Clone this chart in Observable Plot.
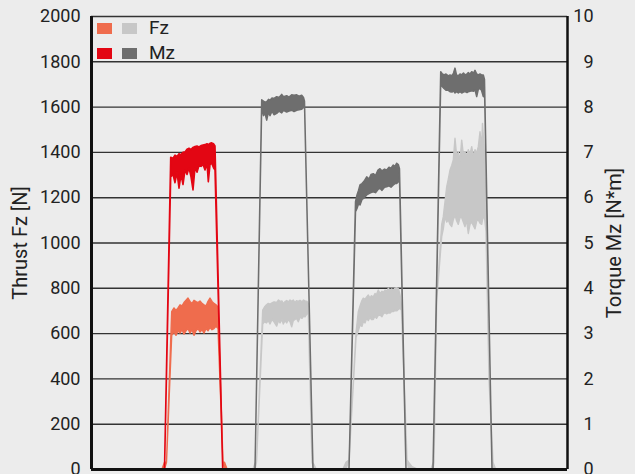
<!DOCTYPE html>
<html>
<head>
<meta charset="utf-8">
<script src="https://cdn.jsdelivr.net/npm/d3@7"></script>
<script src="https://cdn.jsdelivr.net/npm/@observablehq/plot@0.6"></script>
<style>
  html, body { margin: 0; padding: 0; background: #ececec; }
  #wrap { position: relative; width: 635px; height: 474px; font-family: Roboto, "Noto Sans", sans-serif; color: #222; }
  .sw { position: absolute; width: 15px; height: 11px; }
  .lg { position: absolute; font-size: 19px; line-height: 19px; }
</style>
</head>
<body>
<div id="wrap"></div>
<script>
// ---- data (time in samples across the unlabelled x axis; Fz in N; Mz in N*m) ----
// each row: [time, lower envelope, upper envelope]
const fz1 = [[71,0,0],[73.5,0,30],[75.5,30,30],[80.7,590,695],[83,605,711],[85,590,700],[87,610,711],[89,600,725],[91,615,720],[93,595,735],[95,610,745],[97,620,755],[99,600,740],[101,615,731],[103,590,745],[105,610,739],[107,620,735],[109,605,742],[111,615,731],[113,600,725],[115,620,720],[117,610,740],[119,625,755],[121,615,740],[123,620,731],[125,630,725],[127,620,715],[132,30,30],[133.5,0,30],[136,0,0]];
const mz1 = [[73.5,0,0],[79.7,6.45,6.88],[82,6.5,6.86],[84,6.32,6.93],[86,6.55,6.9],[88,6.2,6.96],[90,6.5,6.94],[92,6.28,6.99],[94,6.6,7.0],[96,6.5,7.06],[98,6.65,7.08],[100,6.45,7.05],[102,6.16,7.1],[104,6.65,7.12],[106,6.55,7.13],[108,6.7,7.11],[110,6.68,7.14],[112,6.72,7.15],[114,6.6,7.16],[116,6.75,7.18],[117.3,6.34,7.16],[119,6.72,7.19],[120.7,6.75,7.2],[122.5,6.65,7.18],[124,6.6,7.13],[131.7,0,0]];
const fz2 = [[162,0,0],[164,0,25],[165.5,30,30],[171.7,640,702],[173.5,650,715],[175.5,645,725],[177.3,655,731],[179,640,728],[181,660,733],[183,650,738],[185.7,631,735],[187.5,655,746],[189,645,740],[191,660,742],[192.3,640,730],[194,655,739],[195.7,645,744],[197.5,660,738],[199,650,746],[200.7,628,740],[202.3,655,746],[204,660,735],[205.5,665,743],[207.3,650,740],[209,670,745],[211,665,738],[212.5,675,746],[214,672,742],[216,685,740],[217.3,690,731],[221,30,30],[223,0,20],[225,0,0]];
const mz2 = [[164,0,0],[170.7,8.0,8.15],[172.5,7.8,8.12],[174,7.85,8.1],[175.7,7.7,8.11],[177.5,7.88,8.16],[179,7.8,8.14],[181,7.9,8.19],[183,7.82,8.18],[185.7,7.85,8.22],[188,7.9,8.2],[190.7,7.86,8.27],[192.5,7.92,8.22],[195.7,7.88,8.24],[198,7.9,8.21],[200.7,7.92,8.26],[203,7.89,8.25],[205.7,7.92,8.26],[208,7.93,8.23],[210.7,7.94,8.25],[212.5,7.98,8.2],[213.5,8.05,8.12],[222,0,0]];
const fz3 = [[252,0,0],[255,0,30],[258,40,40],[265,580,600],[267.3,610,695],[269,636,720],[271,630,745],[272.3,650,754],[274,645,750],[275.7,665,760],[277.3,655,768],[279,670,755],[280.5,660,765],[282.3,660,760],[284,675,775],[285.5,665,770],[287.3,678,790],[289,680,775],[291,672,785],[292.3,685,780],[294,690,790],[295.7,685,785],[297.3,690,798],[299,688,788],[300.5,695,795],[302.3,695,790],[304,700,798],[305.7,698,800],[307.5,705,795],[309,710,770],[310.5,700,720],[316,40,40],[317.5,0,30],[321,0,10],[326,0,0]];
const mz3 = [[258,0,0],[264.5,5.68,5.9],[266,5.75,6.05],[267.5,5.85,6.15],[269,5.83,6.27],[271,5.95,6.3],[273,5.98,6.35],[275.7,6.05,6.45],[278,6.08,6.4],[280,6.1,6.5],[282.3,6.12,6.52],[284.5,6.1,6.48],[287,6.17,6.6],[289,6.2,6.63],[291,6.15,6.58],[293.5,6.22,6.62],[295.7,6.23,6.6],[298,6.25,6.66],[300,6.22,6.64],[302.3,6.27,6.71],[304,6.3,6.68],[305.7,6.3,6.75],[307.3,6.34,6.72],[308.5,6.4,6.63],[315,0,0]];
const fz4 = [[340,0,0],[342,0,25],[343,30,30],[345.7,746,746],[350.7,1026,1080],[352.3,1060,1114],[354,1114,1180],[355.7,1090,1246],[357.3,1099,1280],[359,1080,1320],[360.7,1070,1340],[362.3,1100,1364],[364,1120,1460],[365.7,1095,1380],[367.3,1080,1400],[369,1110,1360],[370.7,1110,1452],[372.3,1090,1390],[374,1070,1400],[375.5,1100,1380],[377.3,1040,1410],[379,1080,1390],[380.7,1090,1423],[382.3,1075,1380],[384,1060,1410],[385.7,1095,1395],[387.3,1100,1423],[389,1085,1489],[390.7,1080,1420],[391.5,1100,1526],[393.3,1120,1400],[395,1050,1150],[398,400,400],[402,0,30],[404.5,0,0]];
const mz4 = [[342,0,0],[349.7,8.5,8.77],[351,8.45,8.73],[353,8.4,8.7],[355,8.36,8.72],[357.3,8.36,8.68],[359,8.33,8.7],[361,8.32,8.68],[362.5,8.35,8.74],[364,8.3,8.85],[365.5,8.33,8.7],[367.3,8.3,8.68],[369,8.33,8.72],[370.7,8.3,8.7],[372.5,8.32,8.74],[374,8.33,8.7],[376,8.31,8.72],[377.3,8.33,8.75],[379,8.34,8.72],[380.7,8.35,8.77],[382.5,8.34,8.74],[384,8.37,8.8],[385.7,8.22,8.72],[387.3,8.38,8.7],[389,8.4,8.72],[390.5,8.36,8.7],[392.3,8.22,8.7],[393.5,8.4,8.6],[401,0,0]];

const fzTicks = [0,200,400,600,800,1000,1200,1400,1600,1800,2000]; // N
const mzTicks = [0,1,2,3,4,5,6,7,8,9,10];                          // N*m
const legendLabels = ["Fz", "Mz"];
const axisTitles = ["Thrust Fz [N]", "Torque Mz [N*m]"];
const colors = {fz1: "#ef6c4d", mz1: "#e30613", fz: "#c7c7c7", mz: "#6e6e6e"};

const N_PER_NM = fzTicks[fzTicks.length-1] / mzTicks[mzTicks.length-1]; // right axis aligned to left axis

function band(data, color, isMz, sw) {
  const k = isMz ? N_PER_NM : 1;
  return Plot.areaY(data, {
    x: d => d[0], y1: d => d[1]*k, y2: d => d[2]*k,
    fill: color, stroke: color, strokeWidth: sw, strokeLinejoin: "round"
  });
}

const chart = Plot.plot({
  width: 635, height: 474,
  marginLeft: 91, marginRight: 68, marginTop: 16, marginBottom: 5,
  style: {background: "transparent", fontFamily: "Roboto, 'Noto Sans', sans-serif", color: "#222", overflow: "visible"},
  x: {domain: [0, 476], axis: null},
  y: {domain: [0, 2000]},
  marks: [
    Plot.ruleY(fzTicks.slice(1), {stroke: "#333", strokeWidth: 1.4}),
    band(fz1, colors.fz1, false, 1.4),
    band(mz1, colors.mz1, true, 1.6),
    band(fz2, colors.fz, false, 1.4),
    band(mz2, colors.mz, true, 1.5),
    band(fz3, colors.fz, false, 1.4),
    band(mz3, colors.mz, true, 1.5),
    band(fz4, colors.fz, false, 1.4),
    band(mz4, colors.mz, true, 1.5),
    Plot.axisY(fzTicks, {anchor: "left", tickSize: 0, tickPadding: 11, tickFormat: d => String(d), label: null, fontSize: 18, fill: "#222"}),
    Plot.axisY(mzTicks.map(v => v*N_PER_NM), {anchor: "right", tickSize: 0, tickPadding: 26, textAnchor: "end", tickFormat: d => String(d/N_PER_NM), label: null, fontSize: 18, fill: "#222"}),
    Plot.ruleX([0], {stroke: "#111", strokeWidth: 3}),
    Plot.ruleX([476], {stroke: "#111", strokeWidth: 2.5}),
    Plot.ruleY([0], {stroke: "#111", strokeWidth: 3}),
    Plot.text([axisTitles[0]], {frameAnchor: "left", textAnchor: "middle", rotate: -90, dx: -70.5, fontSize: 20, fill: "#222"}),
    Plot.text([axisTitles[1]], {frameAnchor: "right", textAnchor: "middle", rotate: -90, dx: 47, fontSize: 20, fill: "#222"})
  ]
});

const wrap = document.getElementById("wrap");
wrap.appendChild(chart);

// legend (inside the plot area, top-left)
const rows = [
  {label: legendLabels[0], c1: colors.fz1, c2: colors.fz, top: 23},
  {label: legendLabels[1], c1: colors.mz1, c2: colors.mz, top: 48}
];
for (const r of rows) {
  const a = document.createElement("div"); a.className = "sw";
  a.style.left = "97px"; a.style.top = r.top + "px"; a.style.background = r.c1; wrap.appendChild(a);
  const b = document.createElement("div"); b.className = "sw";
  b.style.left = "122px"; b.style.top = r.top + "px"; b.style.background = r.c2; wrap.appendChild(b);
  const t = document.createElement("div"); t.className = "lg";
  t.style.left = "149px"; t.style.top = (r.top - 5) + "px"; t.textContent = r.label; wrap.appendChild(t);
}
</script>
</body>
</html>
